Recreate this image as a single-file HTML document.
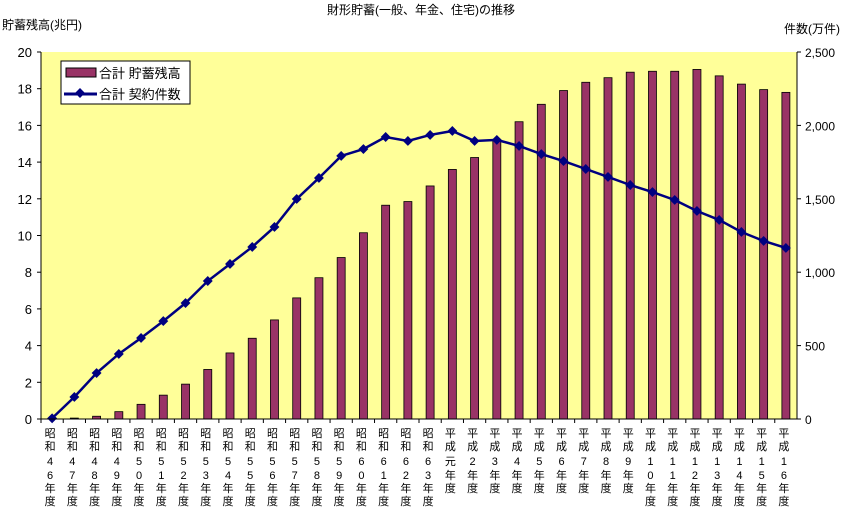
<!DOCTYPE html>
<html><head><meta charset="utf-8"><style>
body{margin:0;background:#fff;}
svg{display:block;font-family:"Liberation Sans","Noto Sans CJK JP",sans-serif;}
</style></head><body>
<svg id="chart" width="842" height="509" viewBox="0 0 842 509" xmlns="http://www.w3.org/2000/svg">
<text x="421" y="14" font-size="12" text-anchor="middle">財形貯蓄(一般、年金、住宅)の推移</text>
<text x="2" y="29" font-size="12">貯蓄残高(兆円)</text>
<text x="840" y="33" font-size="12" text-anchor="end">件数(万件)</text>
<rect x="41" y="52" width="756" height="367" fill="#FFFF99"/>
<g id="bars"></g>
<g id="line"></g>
<g id="axes"></g>
<g>
<rect x="61" y="61" width="129" height="43" fill="#fff" stroke="#000" stroke-width="1"/>
<rect x="66" y="68" width="30" height="9" fill="#993366" stroke="#000"/>
<text x="99" y="78" font-size="13">合計 貯蓄残高</text>
<line x1="64" y1="94" x2="97" y2="94" stroke="#000080" stroke-width="3"/>
<rect x="76.5" y="89.5" width="7" height="7" fill="#000080" transform="rotate(45 80 93)"/>
<text x="99" y="99" font-size="13">合計 契約件数</text>
</g>
</svg>
<script>
const categories=[["昭","和","4","6","年","度"],["昭","和","4","7","年","度"],["昭","和","4","8","年","度"],["昭","和","4","9","年","度"],["昭","和","5","0","年","度"],["昭","和","5","1","年","度"],["昭","和","5","2","年","度"],["昭","和","5","3","年","度"],["昭","和","5","4","年","度"],["昭","和","5","5","年","度"],["昭","和","5","6","年","度"],["昭","和","5","7","年","度"],["昭","和","5","8","年","度"],["昭","和","5","9","年","度"],["昭","和","6","0","年","度"],["昭","和","6","1","年","度"],["昭","和","6","2","年","度"],["昭","和","6","3","年","度"],["平","成","元","年","度"],["平","成","2","年","度"],["平","成","3","年","度"],["平","成","4","年","度"],["平","成","5","年","度"],["平","成","6","年","度"],["平","成","7","年","度"],["平","成","8","年","度"],["平","成","9","年","度"],["平","成","1","0","年","度"],["平","成","1","1","年","度"],["平","成","1","2","年","度"],["平","成","1","3","年","度"],["平","成","1","4","年","度"],["平","成","1","5","年","度"],["平","成","1","6","年","度"]];
const balance=[0.02,0.05,0.15,0.4,0.8,1.3,1.9,2.7,3.6,4.4,5.4,6.6,7.7,8.8,10.15,11.65,11.85,12.7,13.6,14.25,15.2,16.2,17.15,17.9,18.35,18.6,18.9,18.95,18.95,19.05,18.7,18.25,17.95,17.8];
const contracts=[5,150,313,443,552,667,790,940,1056,1172,1308,1499,1642,1792,1839,1921,1894,1935,1962,1894,1901,1860,1805,1757,1703,1649,1594,1546,1492,1417,1356,1274,1213,1165];
const leftTicks=[0,2,4,6,8,10,12,14,16,18,20];
const rightTicks=["0","500","1,000","1,500","2,000","2,500"];
const NS="http://www.w3.org/2000/svg";
const L=41,R=797,T=52,B=419,bw=(R-L)/categories.length;
const x=i=>L+bw*(i+0.5);
const yL=v=>B-(v/20)*(B-T);
const yR=v=>B-(v/2500)*(B-T);
function mk(tag,attrs,parent){const e=document.createElementNS(NS,tag);for(const k in attrs)e.setAttribute(k,attrs[k]);parent.appendChild(e);return e;}
const gb=document.getElementById('bars'),gl=document.getElementById('line'),ga=document.getElementById('axes');
balance.forEach((v,i)=>{const r=mk('rect',{x:x(i)-4,y:yL(v),width:8,height:B-yL(v),fill:'#993366',stroke:'#000','stroke-width':0.8},gb);

});
const pts=contracts.map((v,i)=>x(i)+','+yR(v)).join(' ');
const pl=mk('polyline',{points:pts,fill:'none',stroke:'#000080','stroke-width':2.5},gl);


contracts.forEach((v,i)=>{const m=mk('rect',{x:x(i)-3.5,y:yR(v)-3.5,width:7,height:7,fill:'#000080',transform:`rotate(45 ${x(i)} ${yR(v)})`},gl);

});
mk('line',{x1:L,y1:T,x2:L,y2:B,stroke:'#000'},ga);
mk('line',{x1:R,y1:T,x2:R,y2:B,stroke:'#000'},ga);
mk('line',{x1:L,y1:B,x2:R,y2:B,stroke:'#000'},ga);
leftTicks.forEach(v=>{mk('line',{x1:L-4,y1:yL(v),x2:L,y2:yL(v),stroke:'#000'},ga);
const t=mk('text',{x:L-9,y:yL(v)+5,'font-size':13,'text-anchor':'end'},ga);t.textContent=v;

});
rightTicks.forEach((s,i)=>{const v=i*500;mk('line',{x1:R,y1:yR(v),x2:R+4,y2:yR(v),stroke:'#000'},ga);
const t=mk('text',{x:R+8,y:yR(v)+5,'font-size':12},ga);t.textContent=s;

});
const rows=[433,446,461,475,488,501];
categories.forEach((c,i)=>{mk('line',{x1:L+bw*i,y1:B,x2:L+bw*i,y2:B+4,stroke:'#000'},ga);
const g=mk('g',{},ga);


c.forEach((ch,j)=>{const t=mk('text',{x:x(i)-2,y:rows[j]+4,'font-size':11,'text-anchor':'middle'},g);t.textContent=ch;});});
</script>
</body></html>
